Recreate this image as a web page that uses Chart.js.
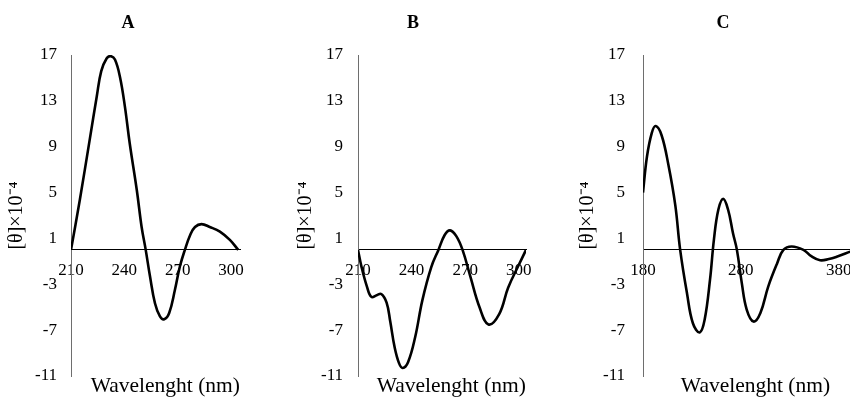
<!DOCTYPE html>
<html>
<head>
<meta charset="utf-8">
<script src="https://cdn.jsdelivr.net/npm/chart.js@4.4.1/dist/chart.umd.min.js"></script>
<style>
  html, body { margin: 0; padding: 0; background: #fff; }
  body { width: 850px; height: 401px; overflow: hidden; position: relative; }
  canvas { position: absolute; top: 0; }
</style>
</head>
<body>
<canvas id="chartA" width="250" height="401" style="left:0px"></canvas>
<canvas id="chartB" width="246" height="401" style="left:290px"></canvas>
<canvas id="chartC" width="308" height="401" style="left:570px"></canvas>
<script>
// y ticks shared by all three panels
const yTicks = [-11, -7, -3, 1, 5, 9, 13, 17];

// panel A
const nmA = [210, 215, 220.5, 224.5, 227, 230, 232.3, 234.7, 237.5, 240.3, 243, 247, 249.7, 252, 254.4, 257.2, 260, 262.4, 265.2, 268.4, 271.2, 274, 277, 279.7, 283.4, 288, 293.7, 299.3, 304];
const cdA = [0, 4.4, 9.6, 13.4, 15.6, 16.7, 16.9, 16.6, 15.1, 12.5, 9.3, 5.2, 2.0, 0, -2.3, -4.65, -5.8, -6.05, -5.5, -3.5, -1.45, 0, 1.3, 2.0, 2.25, 2.0, 1.6, 0.87, 0];
const xTicksA = [210, 240, 270, 300];

// panel B
const nmB = [210, 212, 215, 217.5, 220.5, 223, 226, 228, 230.5, 233, 235, 238, 242, 246, 251, 255, 258.5, 261.5, 265, 268.5, 273, 278, 283, 289, 294, 300, 304];
const cdB = [0, -1.5, -3.2, -4.1, -3.95, -3.85, -4.6, -6.2, -8.5, -9.9, -10.3, -9.8, -7.6, -4.4, -1.5, 0, 1.3, 1.7, 1.2, 0, -2.4, -5.0, -6.5, -5.6, -3.3, -1.3, 0];
const xTicksB = [210, 240, 270, 300];

// panel C
const nmC = [180, 184, 189, 193, 199, 206, 213, 218, 225, 231, 238, 243, 248.5, 252.5, 257, 262, 267, 272, 276, 281, 286, 293, 300, 308, 317, 323.5, 332, 344, 352, 361, 370, 378, 392];
const cdC = [5.0, 8.1, 10.2, 10.8, 10.0, 7.4, 3.9, 0, -3.8, -6.4, -7.2, -6.1, -2.6, 0.9, 3.5, 4.45, 3.5, 1.45, 0, -2.9, -5.2, -6.25, -5.5, -3.2, -1.2, 0, 0.3, 0, -0.55, -0.9, -0.8, -0.6, -0.15];
const xTicksC = [180, 280, 380];

const SERIF = '"Liberation Serif", "Times New Roman", serif';

function makePanel(id, p) {
  const ctx = document.getElementById(id).getContext('2d');
  return new Chart(ctx, {
    type: 'line',
    data: {
      datasets: [{
        data: p.nm.map((x, i) => ({x: x, y: p.cd[i]})),
        borderColor: '#000',
        borderWidth: 2.6,
        pointRadius: 0,
        tension: 0.4,
        fill: false
      }]
    },
    options: {
      responsive: false,
      animation: false,
      layout: { padding: { left: p.padLeft, right: 10, top: 0, bottom: 0 } },
      plugins: {
        legend: { display: false },
        tooltip: { enabled: false },
        title: {
          display: true,
          text: p.title,
          color: '#000',
          font: { family: SERIF, size: 18, weight: 'bold' },
          padding: { top: 12.2, bottom: 21.2 }
        },
        subtitle: {
          display: true,
          position: 'bottom',
          fullSize: false,
          align: p.labelAlign,
          text: 'Wavelenght (nm)',
          color: '#000',
          font: { family: SERIF, size: 21.5 },
          padding: { top: -2.4, bottom: 1.6 }
        }
      },
      scales: {
        x: {
          type: 'linear',
          position: { y: 0 },
          min: p.xmin,
          max: p.xmax,
          afterBuildTicks: s => { s.ticks = p.xTicks.map(v => ({value: v})); },
          afterFit: s => { s.height = 0; s.paddingLeft = 0; s.paddingRight = 0; },
          grid: { display: false, drawTicks: false },
          border: { display: true, color: '#000', width: 1 },
          ticks: { autoSkip: false, maxRotation: 0, padding: 10, color: '#000', font: { family: SERIF, size: 17 } }
        },
        y: {
          min: -11,
          max: 17,
          afterBuildTicks: s => { s.ticks = yTicks.map(v => ({value: v})); },
          afterFit: s => { s.width = p.yWidth; s.paddingTop = 0; s.paddingBottom = 0; },
          grid: { display: false, drawTicks: false },
          border: { display: true, color: '#6e6e6e', width: 1 },
          ticks: { autoSkip: false, padding: p.tickPad, color: '#000', font: { family: SERIF, size: 17 } },
          title: {
            display: true,
            text: '[θ]×10⁻⁴',
            color: '#000',
            font: { family: SERIF, size: 20 },
            padding: { top: p.titlePad, bottom: 0 }
          }
        }
      }
    }
  });
}

makePanel('chartA', { title: 'A', nm: nmA, cd: cdA, xTicks: xTicksA, xmin: 210, xmax: 305, padLeft: 16, yWidth: 55, tickPad: 14, titlePad: -11, labelAlign: 'end' });
makePanel('chartB', { title: 'B', nm: nmB, cd: cdB, xTicks: xTicksB, xmin: 210, xmax: 304, padLeft: 10, yWidth: 58, tickPad: 15, titlePad: -6, labelAlign: 'end' });
makePanel('chartC', { title: 'C', nm: nmC, cd: cdC, xTicks: xTicksC, xmin: 180, xmax: 410, padLeft: 8, yWidth: 65, tickPad: 18, titlePad: -2, labelAlign: 'center' });
</script>
</body>
</html>
